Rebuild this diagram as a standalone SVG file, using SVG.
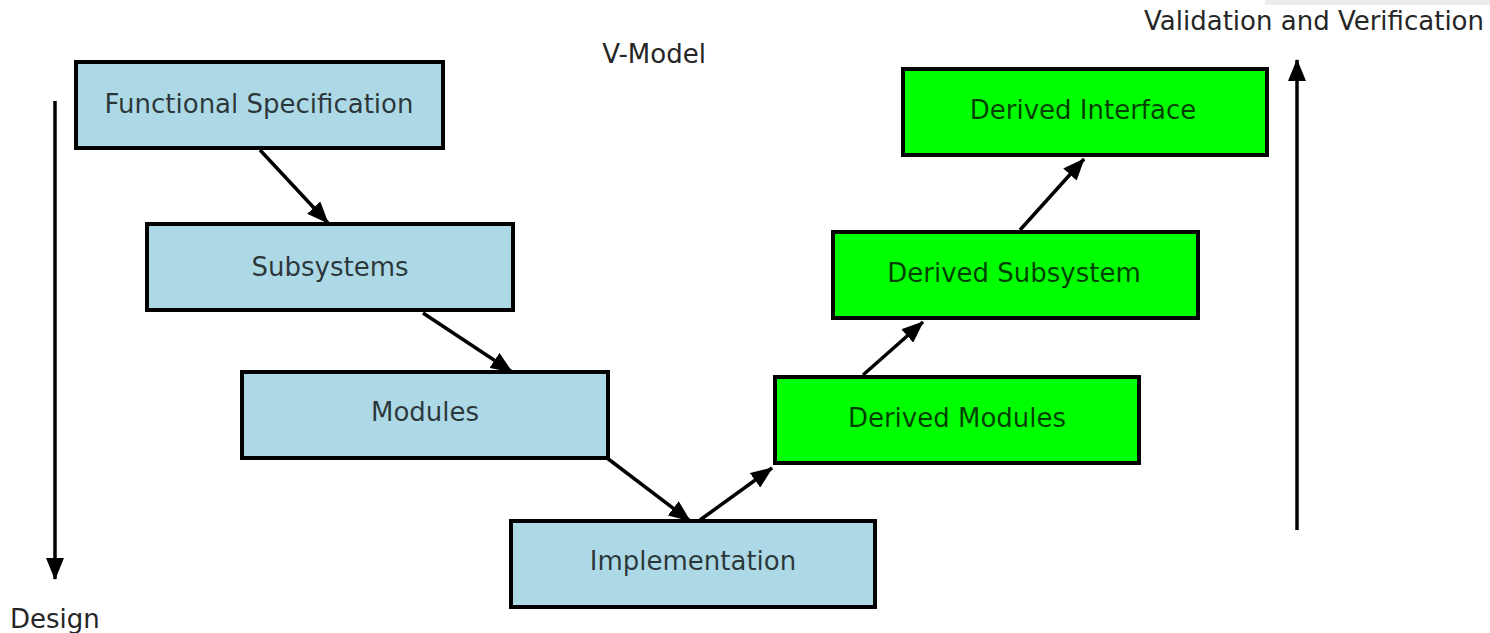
<svg xmlns="http://www.w3.org/2000/svg" width="1490" height="633" viewBox="0 0 1490 633">
<style>
.box{stroke:#000;stroke-width:4}
.blue{fill:#add8e6}
.green{fill:#00ff00}
.lbl{font-family:"DejaVu Sans",Verdana,sans-serif;font-size:26px;fill:#000;fill-opacity:0.75;text-anchor:middle}
.free{font-family:"DejaVu Sans",Verdana,sans-serif;font-size:26px;fill:#262626}
.conn{stroke:#000;stroke-width:3.5;fill:none;marker-end:url(#ah)}
</style>
<defs>
<marker id="ah" markerUnits="userSpaceOnUse" markerWidth="22" markerHeight="18" viewBox="0 0 22 18" refX="21" refY="9" orient="auto">
<path d="M0,0 L22,9 L0,18 z" fill="#000"/>
</marker>
</defs>
<rect width="1490" height="633" fill="#fff"/>
<rect x="1265" y="0" width="225" height="5" fill="#ececec"/>
<text class="free" x="654" y="63" text-anchor="middle">V-Model</text>
<text class="free" x="1484" y="30" text-anchor="end">Validation and Verification</text>
<text class="free" x="10" y="628">Design</text>
<g id="functional-specification">
<rect class="box blue" x="76" y="62" width="367" height="86"/>
<text class="lbl" x="259" y="113">Functional Specification</text>
</g>
<g id="subsystems">
<rect class="box blue" x="147" y="224" width="366" height="86"/>
<text class="lbl" x="330" y="276">Subsystems</text>
</g>
<g id="modules">
<rect class="box blue" x="242" y="372" width="366" height="86"/>
<text class="lbl" x="425" y="421">Modules</text>
</g>
<g id="implementation">
<rect class="box blue" x="511" y="521" width="364" height="86"/>
<text class="lbl" x="693" y="570">Implementation</text>
</g>
<g id="derived-modules">
<rect class="box green" x="775" y="377" width="364" height="86"/>
<text class="lbl" x="957" y="427">Derived Modules</text>
</g>
<g id="derived-subsystem">
<rect class="box green" x="833" y="232" width="365" height="86"/>
<text class="lbl" x="1014" y="282">Derived Subsystem</text>
</g>
<g id="derived-interface">
<rect class="box green" x="903" y="69" width="364" height="86"/>
<text class="lbl" x="1083" y="119">Derived Interface</text>
</g>
<g id="connectors">
<line class="conn" x1="260" y1="150" x2="328" y2="223"/>
<line class="conn" x1="423" y1="313" x2="512" y2="372"/>
<line class="conn" x1="607" y1="458" x2="690" y2="521"/>
<line class="conn" x1="700" y1="520" x2="772" y2="468"/>
<line class="conn" x1="863" y1="375" x2="923" y2="322"/>
<line class="conn" x1="1020" y1="230" x2="1084" y2="159"/>
<line class="conn" x1="55" y1="101" x2="55" y2="579"/>
<line class="conn" x1="1297" y1="530" x2="1297" y2="60"/>
</g>
</svg>
